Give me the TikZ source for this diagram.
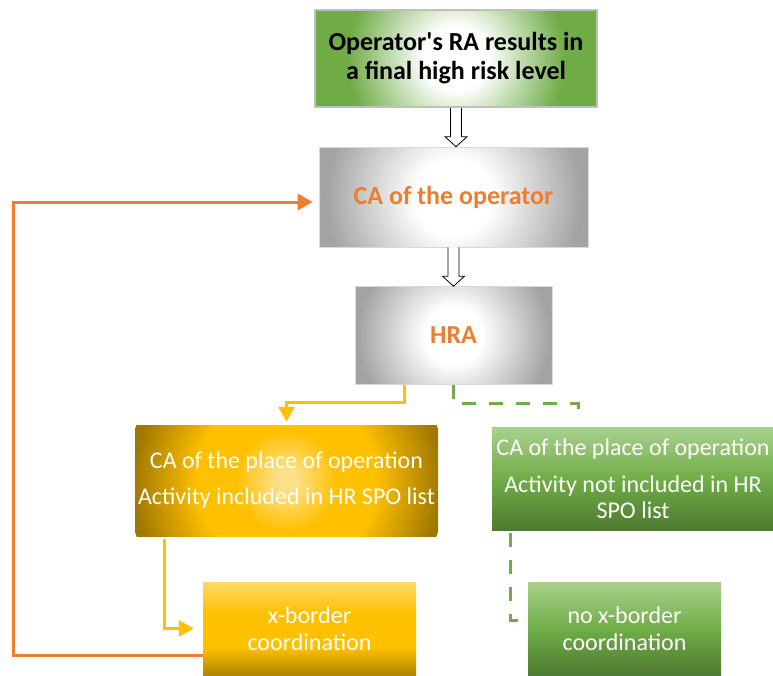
\documentclass[tikz,border=0pt]{standalone}
\usepackage{fontspec}
\setmainfont{Carlito}[Ligatures=TeXOff]
\usetikzlibrary{arrows.meta,calc}
\definecolor{gOuter}{HTML}{6FAC46}
\definecolor{grOuter}{HTML}{A3A3A3}
\definecolor{yLight}{HTML}{FFE08A}
\definecolor{yMid}{HTML}{FFC000}
\definecolor{yDark}{HTML}{A07800}
\definecolor{lgTop}{HTML}{A9D18E}
\definecolor{lgMid}{HTML}{70AD47}
\definecolor{lgBot}{HTML}{4F7A31}
\definecolor{xyTop}{HTML}{FFD966}
\definecolor{xyBot}{HTML}{B08500}
\definecolor{orangeC}{HTML}{ED7D31}
\definecolor{yellowC}{HTML}{FFC000}
\definecolor{greenC}{HTML}{70AD47}
\definecolor{bordC}{HTML}{BFBFBF}
\pgfdeclareradialshading{greenrad}{\pgfpoint{0bp}{0bp}}{color(0bp)=(white); color(5bp)=(white); color(17bp)=(gOuter); color(50bp)=(gOuter)}
\pgfdeclareradialshading{grayrad}{\pgfpoint{0bp}{0bp}}{color(0bp)=(white); color(6bp)=(white); color(20bp)=(grOuter); color(50bp)=(grOuter)}
\pgfdeclareradialshading{goldrad}{\pgfpoint{0bp}{0bp}}{color(0bp)=(yLight); color(1.5bp)=(yLight); color(8bp)=(yMid); color(14bp)=(yMid); color(24bp)=(yDark); color(50bp)=(yDark)}
\pgfdeclareverticalshading{greenlin}{100bp}{color(0bp)=(lgBot); color(25bp)=(lgBot); color(50bp)=(lgMid); color(75bp)=(lgTop); color(100bp)=(lgTop)}
\pgfdeclareverticalshading{yellowlin}{100bp}{color(0bp)=(xyBot); color(25bp)=(xyBot); color(40bp)=(yMid); color(58bp)=(yMid); color(75bp)=(xyTop); color(100bp)=(xyTop)}
\tikzset{
  box/.style={rectangle, inner sep=0pt, align=center},
  radfill/.style 2 args={path picture={\shade[shading=#1]
     (path picture bounding box.center) circle (#2);}},
  topbox/.style={box, radfill={greenrad}{160pt}, draw=bordC, line width=1.5pt,
    font=\fontsize{26}{29}\selectfont\bfseries, text=black},
  graybox/.style={box, radfill={grayrad}{160pt}, draw=bordC!60, line width=0.6pt,
    font=\fontsize{26}{30}\selectfont\bfseries, text=orangeC},
  goldbox/.style={box, radfill={goldrad}{160pt}, font=\fontsize{24}{26}\selectfont, text=white},
  greenbox/.style={box, shading=greenlin, font=\fontsize{24}{26}\selectfont, text=white},
  ybox/.style={box, shading=yellowlin, font=\fontsize{24}{26.5}\selectfont, text=white},
  orangeline/.style={draw=orangeC, line width=3pt, -{Triangle[length=15pt,width=16pt]}},
  yellowline/.style={draw=yellowC, line width=3pt, -{Triangle[length=15pt,width=16pt]}},
  greendash/.style={draw=greenC, line width=3pt, dash pattern=on 14pt off 13pt},
  hollow/.style={draw=black, fill=white, line width=0.8pt, line join=miter},
}
\newcommand\hollowarrow[2]{%
  \path[hollow] ($(#1.south)+(-5.5,0)$) -- ($(#1.south |- #2.north)+(-5.5,-10)$)
    -- ($(#1.south |- #2.north)+(-11,-10)$) -- (#1.south |- #2.north)
    -- ($(#1.south |- #2.north)+(11,-10)$) -- ($(#1.south |- #2.north)+(5.5,-10)$)
    -- ($(#1.south)+(5.5,0)$);}
\begin{document}
\begin{tikzpicture}[x=1pt,y=-1pt]
\useasboundingbox (0,0) rectangle (773,675);
\node[topbox, minimum width=282pt, minimum height=97pt] (top) at (456,58.5)
  {Operator's RA results in\\a final high risk level};
\node[graybox, minimum width=269pt, minimum height=100pt] (ca) at (453.5,197)
  {CA of the operator};
\node[graybox, radfill={grayrad}{120pt}, minimum width=197pt, minimum height=98pt] (hra) at (453.5,335.5)
  {HRA};
\node[goldbox, minimum width=303pt, minimum height=111pt] (ca1) at (286.5,480.5)
  {CA of the place of operation\\[10pt]Activity included in HR SPO list};
\node[greenbox, minimum width=282pt, minimum height=103pt] (ca2) at (633,478.5)
  {CA of the place of operation\\[11pt]Activity not included in HR\\SPO list};
\node[ybox, minimum width=213pt, minimum height=93pt] (xb) at (309.5,628.5)
  {x-border\\coordination};
\node[ybox, shading=greenlin, minimum width=193pt, minimum height=93pt] (nxb) at (624.5,628.5)
  {no x-border\\coordination};
\hollowarrow{top}{ca}
\hollowarrow{ca}{hra}
\coordinate (gEnd) at ($(ca2.north)+(-55,-12)$);
\draw[yellowline] ($(hra.south)+(-49.5,0)$) -- ++(0,17.5) -| ($(ca1.north)+(0,-3)$);
\draw[greendash] (hra.south) -- ++(0,19) -| (gEnd);
\draw[yellowline] ($(ca1.south)+(-122.5,3)$) |- ($(xb.west)+(-9,0)$);
\draw[greendash] ($(ca2.south)+(-123,3)$) |- ($(nxb.west)+(-7,-8.5)$);
\draw[orangeline] ($(xb.west)+(0,26.5)$) -- ++(-189,0) |- ($(ca.west)+(-6,5)$);
\end{tikzpicture}
\end{document}
